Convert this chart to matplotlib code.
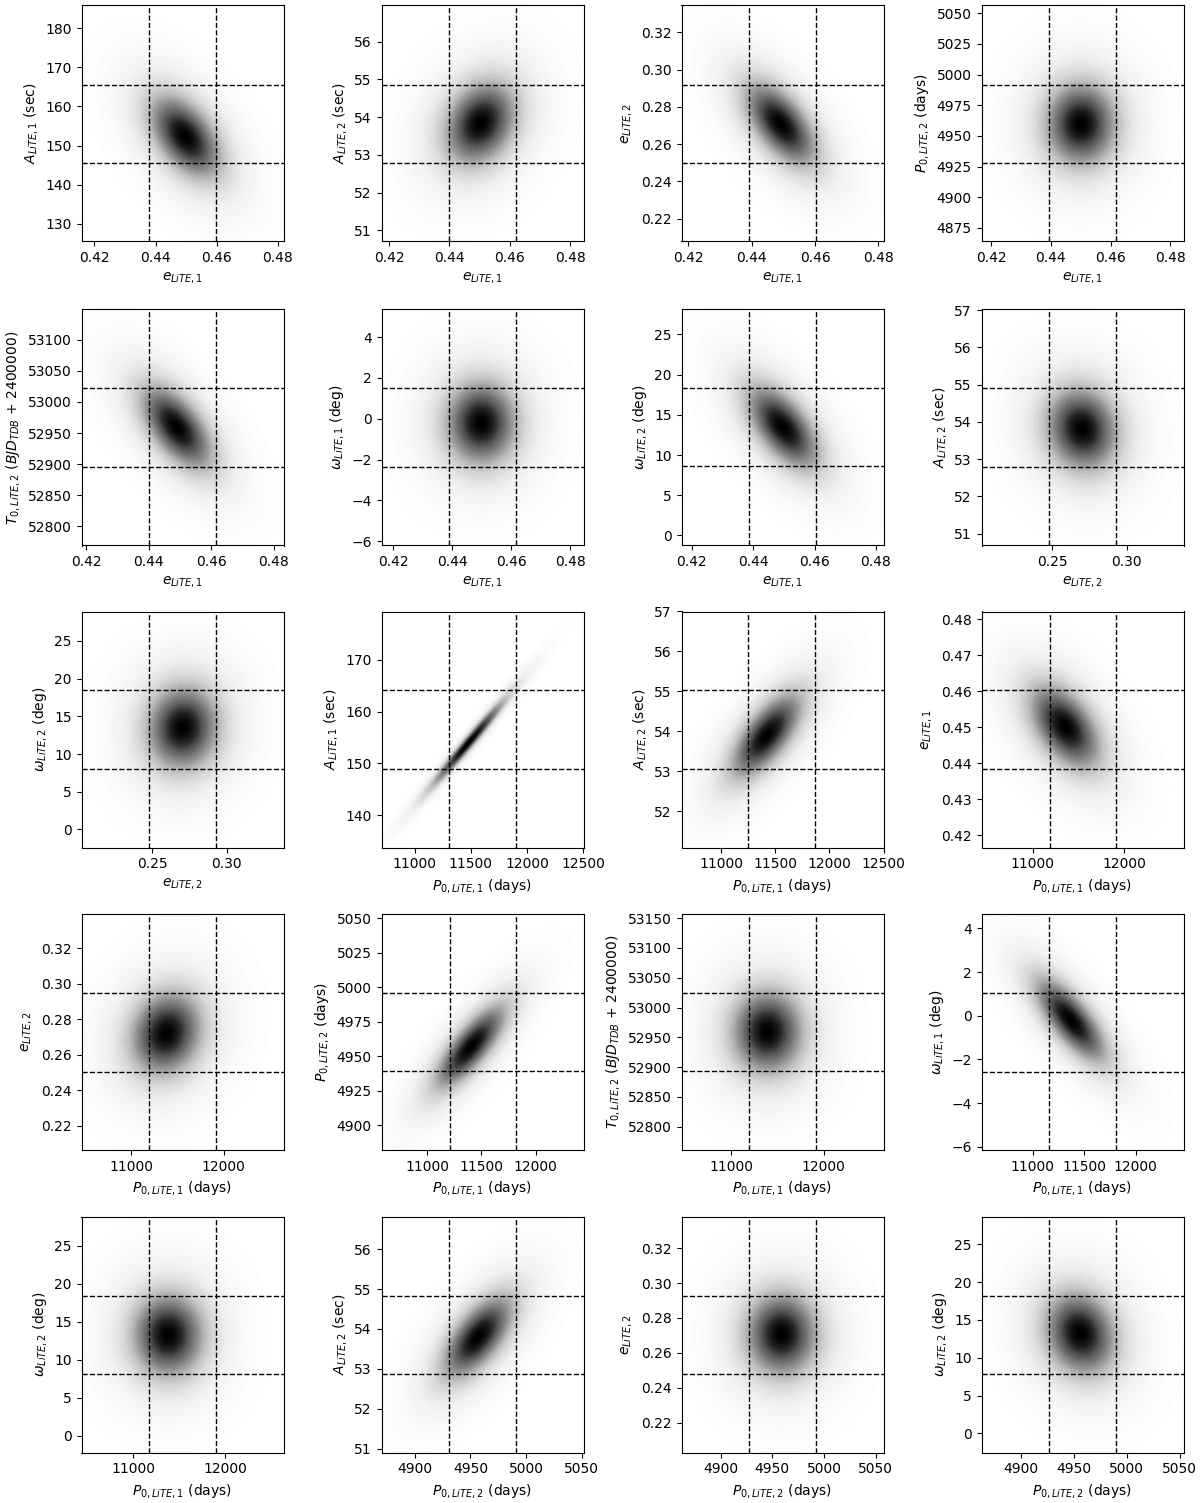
import numpy as np
from matplotlib import pyplot as plt

# axis labels
E1 = r'$e_{LiTE,1}$'
E2 = r'$e_{LiTE,2}$'
A1 = r'$A_{LiTE,1}$ (sec)'
A2 = r'$A_{LiTE,2}$ (sec)'
P1 = r'$P_{0,LiTE,1}$ (days)'
P2 = r'$P_{0,LiTE,2}$ (days)'
T2 = r'$T_{0,LiTE,2}$ $(BJD_{TDB}$ + 2400000)'
W1 = r'$\omega_{LiTE,1}$ (deg)'
W2 = r'$\omega_{LiTE,2}$ (deg)'

x_names = [E1, E1, E1, E1,
           E1, E1, E1, E2,
           E2, P1, P1, P1,
           P1, P1, P1, P1,
           P1, P2, P2, P2]
y_names = [A1, A2, E2, P2,
           T2, W1, W2, A2,
           W2, A1, A2, E1,
           E2, P2, T2, W1,
           W2, A2, E2, W2]

# peak of each posterior (x, y)
x_center = [0.4497, 0.4503, 0.4492, 0.4501,
            0.4490, 0.4498, 0.4497, 0.2700,
            0.2705, 11480, 11420, 11354,
            11380, 11403, 11393, 11370,
            11383, 4957, 4958.9, 4956]
y_center = [152.3, 53.84, 0.2707, 4959.7,
            52959, -0.21, 13.46, 53.81,
            13.5, 154.0, 53.9, 0.4501,
            0.272, 4956.8, 52959.5, -0.2,
            13.25, 53.8, 0.2707, 13.2]
x_sigma = [0.0110, 0.0111, 0.0106, 0.0112,
           0.0108, 0.0113, 0.0110, 0.0226,
           0.0226, 298, 310, 365,
           363, 307, 363, 325,
           367, 30.0, 32.6, 31.7]
y_sigma = [10.0, 1.035, 0.0210, 31.85,
           63.2, 1.92, 4.88, 1.05,
           5.24, 7.65, 1.0, 0.0110,
           0.0220, 28.5, 65.8, 1.81,
           5.17, 0.98, 0.0225, 5.18]
rho = [-0.5, 0.25, -0.6, 0.0,
       -0.6, 0.0, -0.6, -0.1,
       0.05, 0.985, 0.7, -0.5,
       0.15, 0.8, 0.0, -0.75,
       0.0, 0.65, 0.0, -0.15]

x_lim = [(0.4158, 0.4818), (0.4175, 0.4844), (0.4179, 0.4816), (0.4167, 0.4845),
         (0.4185, 0.4832), (0.4160, 0.4845), (0.4166, 0.4825), (0.2025, 0.3380),
         (0.2025, 0.3380), (10704, 12503), (10630, 12500), (10441, 12645),
         (10463, 12644), (10582, 12438), (10463, 12644), (10503, 12462),
         (10437, 12637), (4870.1, 5051.7), (4862.2, 5057.4), (4862.4, 5053.6)]
y_lim = [(125.5, 185.9), (50.71, 56.96), (0.2078, 0.3345), (4864.1, 5056.5),
         (52769.4, 53148.4), (-6.21, 5.35), (-1.25, 28.1), (50.68, 57.02),
         (-2.39, 28.9), (133.75, 179.35), (51.09, 57.0), (0.4166, 0.4821),
         (0.2063, 0.3393), (4881.9, 5053), (52761, 53157), (-6.15, 4.66),
         (-2.24, 28.87), (50.9, 56.82), (0.203, 0.3381), (-2.51, 28.65)]

e1_ticks = [0.42, 0.44, 0.46, 0.48]
e2_ticks = [0.22, 0.24, 0.26, 0.28, 0.30, 0.32]
p1_wide = [11000, 11500, 12000, 12500]
p1_mid = [11000, 11500, 12000]
p1_narrow = [11000, 12000]
p2_ticks = [4900, 4950, 5000, 5050]
x_ticks = [e1_ticks, e1_ticks, e1_ticks, e1_ticks,
           e1_ticks, e1_ticks, e1_ticks, [0.25, 0.30],
           [0.25, 0.30], p1_wide, p1_wide, p1_narrow,
           p1_narrow, p1_mid, p1_narrow, p1_mid,
           p1_narrow, p2_ticks, p2_ticks, p2_ticks]
y_ticks = [[130, 140, 150, 160, 170, 180], [51, 52, 53, 54, 55, 56], e2_ticks,
           [4875, 4900, 4925, 4950, 4975, 5000, 5025, 5050],
           [52800, 52850, 52900, 52950, 53000, 53050, 53100],
           [-6, -4, -2, 0, 2, 4], [0, 5, 10, 15, 20, 25], [51, 52, 53, 54, 55, 56, 57],
           [0, 5, 10, 15, 20, 25], [140, 150, 160, 170], [52, 53, 54, 55, 56, 57],
           [0.42, 0.43, 0.44, 0.45, 0.46, 0.47, 0.48],
           e2_ticks, [4900, 4925, 4950, 4975, 5000, 5025, 5050],
           [52800, 52850, 52900, 52950, 53000, 53050, 53100, 53150],
           [-6, -4, -2, 0, 2, 4], [0, 5, 10, 15, 20, 25], [51, 52, 53, 54, 55, 56],
           e2_ticks, [0, 5, 10, 15, 20, 25]]

# dashed credible interval lines
v_lines = [(0.4378, 0.4597), (0.4400, 0.4622), (0.4392, 0.4604), (0.4395, 0.4619),
           (0.4401, 0.4616), (0.4390, 0.4617), (0.4386, 0.4606), (0.2477, 0.2928),
           (0.2477, 0.2928), (11309, 11905), (11250, 11869), (11183, 11912),
           (11190, 11917), (11207, 11821), (11190, 11917), (11162, 11811),
           (11171, 11904), (4931.2, 4991.3), (4927.4, 4992.6), (4926.7, 4990)]
h_lines = [(145.5, 165.5), (52.78, 54.85), (0.2498, 0.2918), (4927.9, 4991.6),
           (52896, 53022.6), (-2.35, 1.49), (8.58, 18.33), (52.80, 54.90),
           (8.02, 18.5), (148.9, 164.2), (53.05, 55.04), (0.4383, 0.4603),
           (0.2505, 0.2946), (4939, 4996), (52893.4, 53025), (-2.57, 1.05),
           (8.1, 18.44), (52.87, 54.83), (0.2479, 0.2928), (7.84, 18.2)]


fig = plt.figure(figsize=(12, 15.03), dpi=100)
W, H = 1200.0, 1503.0
lefts = [81.5, 381.5, 681.5, 981.5]
tops = [5.3, 309.5, 611.5, 914, 1216.5]
aw, ah = 202, 236

nu = 4.0     # heavy-tailed kernel, like the KDE in the original
scale = 0.88

for i in range(20):
    r, c = divmod(i, 4)
    ax = fig.add_axes([lefts[c] / W, 1 - (tops[r] + ah) / H, aw / W, ah / H])
    xs = np.linspace(x_lim[i][0], x_lim[i][1], 400)
    ys = np.linspace(y_lim[i][0], y_lim[i][1], 400)
    X, Y = np.meshgrid(xs, ys)
    u = (X - x_center[i]) / (x_sigma[i] * scale)
    v = (Y - y_center[i]) / (y_sigma[i] * scale)
    p = rho[i]
    d2 = (u**2 - 2 * p * u * v + v**2) / (1 - p**2)
    Z = (1 + d2 / nu) ** (-(nu + 2) / 2)
    ax.contourf(X, Y, Z, levels=80, cmap='Greys')
    for xv in v_lines[i]:
        ax.axvline(xv, color='k', ls='--', lw=1.0)
    for yh in h_lines[i]:
        ax.axhline(yh, color='k', ls='--', lw=1.0)
    ax.set_xlim(x_lim[i])
    ax.set_ylim(y_lim[i])
    ax.set_xticks(x_ticks[i])
    ax.set_yticks(y_ticks[i])
    ax.set_xlabel(x_names[i])
    ax.set_ylabel(y_names[i])

fig.savefig('out.png', dpi=100)
